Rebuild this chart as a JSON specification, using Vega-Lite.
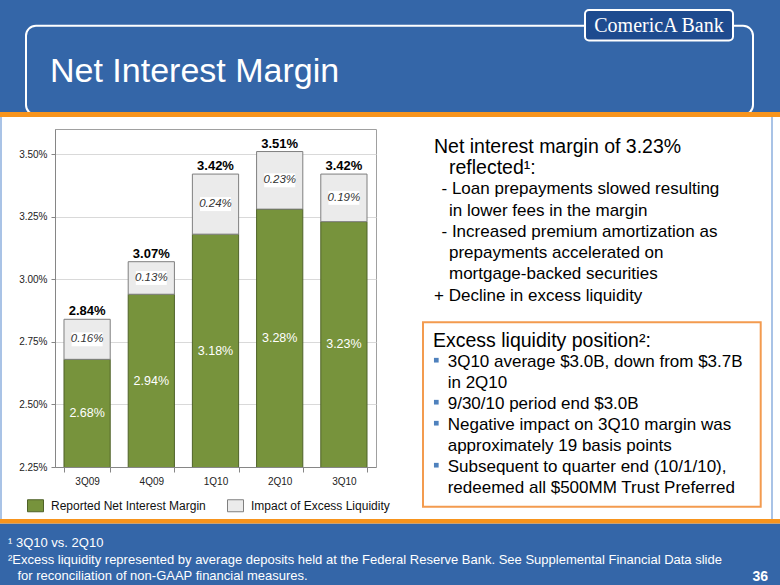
{
  "$schema": "https://vega.github.io/schema/vega-lite/v6.json",
  "width": 321,
  "height": 338,
  "autosize": {"type": "none"},
  "padding": {"left": 55, "top": 129, "right": 404, "bottom": 118},
  "background": "#FFFFFF",
  "config": {
    "font": "Liberation Sans",
    "view": {"stroke": "#A0A0A0", "strokeWidth": 1}
  },
  "datasets": {
    "slide": [{"page": "36"}],
    "nim": [
      {"quarter": "3Q09", "Reported Net Interest Margin": 0.0268, "Impact of Excess Liquidity": 0.0016, "total": 0.0284},
      {"quarter": "4Q09", "Reported Net Interest Margin": 0.0294, "Impact of Excess Liquidity": 0.0013, "total": 0.0307},
      {"quarter": "1Q10", "Reported Net Interest Margin": 0.0318, "Impact of Excess Liquidity": 0.0024, "total": 0.0342},
      {"quarter": "2Q10", "Reported Net Interest Margin": 0.0328, "Impact of Excess Liquidity": 0.0023, "total": 0.0351},
      {"quarter": "3Q10", "Reported Net Interest Margin": 0.0323, "Impact of Excess Liquidity": 0.0019, "total": 0.0342}
    ],
    "comment": [
      {"line": 0, "role": "lead", "text": "Net interest margin of 3.23%"},
      {"line": 1, "role": "cont", "text": "reflected¹:"},
      {"line": 2, "role": "dash", "text": "- Loan prepayments slowed resulting"},
      {"line": 3, "role": "cont", "text": "in lower fees in the margin"},
      {"line": 4, "role": "dash", "text": "- Increased premium amortization as"},
      {"line": 5, "role": "cont", "text": "prepayments accelerated on"},
      {"line": 6, "role": "cont", "text": "mortgage-backed securities"},
      {"line": 7, "role": "lead", "text": "+ Decline in excess liquidity"}
    ],
    "liquidity": [
      {"line": 0, "role": "lead", "bullet": false, "text": "Excess liquidity position²:"},
      {"line": 1, "role": "item", "bullet": true, "text": "3Q10 average $3.0B, down from $3.7B"},
      {"line": 2, "role": "item", "bullet": false, "text": "in 2Q10"},
      {"line": 3, "role": "item", "bullet": true, "text": "9/30/10 period end $3.0B"},
      {"line": 4, "role": "item", "bullet": true, "text": "Negative impact on 3Q10 margin was"},
      {"line": 5, "role": "item", "bullet": false, "text": "approximately 19 basis points"},
      {"line": 6, "role": "item", "bullet": true, "text": "Subsequent to quarter end (10/1/10),"},
      {"line": 7, "role": "item", "bullet": false, "text": "redeemed all $500MM Trust Preferred"}
    ],
    "notes": [
      {"line": 0, "role": "first", "text": "¹ 3Q10 vs. 2Q10"},
      {"line": 1, "role": "first", "text": "²Excess liquidity represented by average deposits held at the Federal Reserve Bank.  See Supplemental Financial Data slide"},
      {"line": 2, "role": "cont", "text": "for reconciliation of non-GAAP financial measures."}
    ]
  },
  "layer": [
    {
      "data": {"name": "slide"},
      "mark": {"type": "rect", "color": "#3466A8"},
      "encoding": {"x": {"value": -55}, "x2": {"value": 725}, "y": {"value": -129}, "y2": {"value": -17}}
    },
    {
      "data": {"name": "slide"},
      "mark": {"type": "rect", "color": "#3466A8"},
      "encoding": {"x": {"value": -55}, "x2": {"value": 725}, "y": {"value": 394.5}, "y2": {"value": 456}}
    },
    {
      "data": {"name": "slide"},
      "mark": {"type": "rect", "fillOpacity": 0, "stroke": "#FFFFFF", "strokeWidth": 2, "cornerRadius": 10},
      "encoding": {"x": {"value": -29}, "x2": {"value": 698}, "y": {"value": -103.3}, "y2": {"value": -14}}
    },
    {
      "data": {"name": "slide"},
      "mark": {"type": "rect", "color": "#F7941D"},
      "encoding": {"x": {"value": -55}, "x2": {"value": 725}, "y": {"value": -17}, "y2": {"value": -12}}
    },
    {
      "data": {"name": "slide"},
      "mark": {"type": "rect", "color": "#F7941D"},
      "encoding": {"x": {"value": -55}, "x2": {"value": 725}, "y": {"value": 390}, "y2": {"value": 394.5}}
    },
    {
      "data": {"name": "slide"},
      "mark": {"type": "rect", "color": "#A9C3E6"},
      "encoding": {"x": {"value": -55}, "x2": {"value": -53}, "y": {"value": -12}, "y2": {"value": 390}}
    },
    {
      "data": {"name": "slide"},
      "mark": {"type": "rect", "color": "#A9C3E6"},
      "encoding": {"x": {"value": 716}, "x2": {"value": 718}, "y": {"value": -12}, "y2": {"value": 390}}
    },
    {
      "data": {"name": "slide"},
      "mark": {"type": "rect", "fill": "#1E4B8F", "stroke": "#FFFFFF", "strokeWidth": 2, "cornerRadius": 4},
      "encoding": {"x": {"value": 530}, "x2": {"value": 678}, "y": {"value": -119}, "y2": {"value": -88.5}}
    },
    {
      "data": {"name": "slide"},
      "mark": {"type": "text", "text": "ComericA Bank", "font": "Liberation Serif", "fontSize": 20, "color": "#FFFFFF", "align": "center", "baseline": "middle"},
      "encoding": {"x": {"value": 604}, "y": {"value": -103.5}}
    },
    {
      "data": {"name": "slide"},
      "mark": {"type": "text", "text": "Net Interest Margin", "fontSize": 34, "color": "#FFFFFF", "align": "left", "baseline": "alphabetic"},
      "encoding": {"x": {"value": -5}, "y": {"value": -46.7}}
    },
    {
      "data": {"name": "slide"},
      "mark": {"type": "rect", "fillOpacity": 0, "stroke": "#F39B4F", "strokeWidth": 2},
      "encoding": {"x": {"value": 368}, "x2": {"value": 705.7}, "y": {"value": 193.3}, "y2": {"value": 377.7}}
    },
    {
      "data": {"name": "slide"},
      "mark": {"type": "text", "fontSize": 14, "fontWeight": "bold", "color": "#FFFFFF", "align": "right", "baseline": "middle"},
      "encoding": {"x": {"value": 713}, "y": {"value": 448}, "text": {"field": "page", "type": "nominal"}}
    },
    {
      "data": {"name": "nim"},
      "transform": [{"fold": ["Reported Net Interest Margin", "Impact of Excess Liquidity"], "as": ["series", "value"]}],
      "mark": {"type": "bar", "clip": true, "strokeWidth": 1},
      "encoding": {
        "x": {
          "field": "quarter", "type": "nominal", "sort": null, "title": null,
          "scale": {"paddingInner": 0.28, "paddingOuter": 0.14},
          "axis": {"labelAngle": 0, "labelFontSize": 10, "labelColor": "#222222", "tickBand": "extent", "tickSize": 5, "labelPadding": 4, "domainColor": "#868686", "tickColor": "#868686", "grid": false}
        },
        "y": {
          "field": "value", "type": "quantitative", "stack": "zero", "title": null,
          "scale": {"domain": [0.0225, 0.036], "zero": false, "nice": false},
          "axis": {"values": [0.0225, 0.025, 0.0275, 0.03, 0.0325, 0.035], "format": ".2%", "labelFontSize": 10, "labelColor": "#222222", "tickSize": 4, "labelPadding": 4, "domainColor": "#868686", "tickColor": "#868686", "grid": true, "gridColor": "#D9D9D9"}
        },
        "color": {
          "field": "series", "type": "nominal",
          "scale": {"domain": ["Reported Net Interest Margin", "Impact of Excess Liquidity"], "range": ["#77933C", "#EBEBEB"]},
          "legend": {"orient": "none", "legendX": -28, "legendY": 368, "direction": "horizontal", "title": null, "symbolType": "M-1,-0.75H1V0.75H-1Z", "symbolSize": 256, "symbolStrokeWidth": 1, "labelFontSize": 12, "labelColor": "#111111", "labelOffset": 7, "columnPadding": 19, "labelLimit": 300, "padding": 0}
        },
        "stroke": {
          "field": "series", "type": "nominal",
          "scale": {"domain": ["Reported Net Interest Margin", "Impact of Excess Liquidity"], "range": ["#4F6228", "#7F7F7F"]},
          "legend": {"orient": "none", "legendX": -28, "legendY": 368, "direction": "horizontal", "title": null, "symbolType": "M-1,-0.75H1V0.75H-1Z", "symbolSize": 256, "symbolStrokeWidth": 1, "labelFontSize": 12, "labelColor": "#111111", "labelOffset": 7, "columnPadding": 19, "labelLimit": 300, "padding": 0}
        },
        "order": {"field": "series", "sort": "descending"}
      }
    },
    {
      "data": {"name": "nim"},
      "transform": [{"fold": ["Reported Net Interest Margin", "total"], "as": ["k", "v"]}],
      "mark": {"type": "point", "shape": "M-1,-0.45H1V0.45H-1Z", "size": 961, "filled": true, "color": "#FFFFFF", "opacity": 1},
      "encoding": {
        "x": {"field": "quarter", "type": "nominal", "sort": null, "axis": null},
        "y": {"aggregate": "mean", "field": "v", "type": "quantitative", "scale": {"domain": [0.0225, 0.036], "zero": false, "nice": false}, "axis": null}
      }
    },
    {
      "data": {"name": "nim"},
      "transform": [{"fold": ["Reported Net Interest Margin", "total"], "as": ["k", "v"]}],
      "mark": {"type": "text", "fontSize": 11.5, "fontStyle": "italic", "color": "#333333", "baseline": "middle"},
      "encoding": {
        "x": {"field": "quarter", "type": "nominal", "sort": null, "axis": null},
        "y": {"aggregate": "mean", "field": "v", "type": "quantitative", "scale": {"domain": [0.0225, 0.036], "zero": false, "nice": false}, "axis": null},
        "text": {"aggregate": "max", "field": "Impact of Excess Liquidity", "type": "quantitative", "format": ".2%"}
      }
    },
    {
      "data": {"name": "nim"},
      "mark": {"type": "text", "fontSize": 12.5, "color": "#FFFFFF", "baseline": "middle"},
      "encoding": {
        "x": {"field": "quarter", "type": "nominal", "sort": null, "axis": null},
        "y": {"field": "Reported Net Interest Margin", "type": "quantitative", "scale": {"domain": [0.0225, 0.0495], "zero": false, "nice": false}, "axis": null},
        "text": {"field": "Reported Net Interest Margin", "type": "quantitative", "format": ".2%"}
      }
    },
    {
      "data": {"name": "nim"},
      "mark": {"type": "text", "fontSize": 13, "fontWeight": "bold", "color": "#000000", "baseline": "alphabetic", "dy": -4},
      "encoding": {
        "x": {"field": "quarter", "type": "nominal", "sort": null, "axis": null},
        "y": {"field": "total", "type": "quantitative", "scale": {"domain": [0.0225, 0.036], "zero": false, "nice": false}, "axis": null},
        "text": {"field": "total", "type": "quantitative", "format": ".2%"}
      }
    },
    {
      "data": {"name": "comment"},
      "transform": [{"filter": "datum.line <= 1"}],
      "mark": {"type": "text", "fontSize": 19.5, "color": "#000000", "align": "left", "baseline": "middle"},
      "encoding": {
        "x": {"field": "role", "type": "nominal", "scale": {"type": "point", "domain": ["lead", "dash", "cont"], "range": [379, 394], "padding": 0}, "axis": null},
        "y": {"field": "line", "type": "quantitative", "scale": {"domain": [0, 7], "range": [17.7, 166.7], "nice": false, "zero": false}, "axis": null},
        "text": {"field": "text", "type": "nominal"}
      }
    },
    {
      "data": {"name": "comment"},
      "transform": [{"filter": "datum.line >= 2"}],
      "mark": {"type": "text", "fontSize": 17, "color": "#000000", "align": "left", "baseline": "middle"},
      "encoding": {
        "x": {"field": "role", "type": "nominal", "scale": {"type": "point", "domain": ["lead", "dash", "cont"], "range": [379, 394], "padding": 0}, "axis": null},
        "y": {"field": "line", "type": "quantitative", "scale": {"domain": [0, 7], "range": [17.7, 166.7], "nice": false, "zero": false}, "axis": null},
        "text": {"field": "text", "type": "nominal"}
      }
    },
    {
      "data": {"name": "liquidity"},
      "transform": [{"filter": "datum.line == 0"}],
      "mark": {"type": "text", "fontSize": 19.5, "color": "#000000", "align": "left", "baseline": "middle"},
      "encoding": {
        "x": {"field": "role", "type": "nominal", "scale": {"type": "point", "domain": ["lead", "item"], "range": [378, 392.7], "padding": 0}, "axis": null},
        "y": {"field": "line", "type": "quantitative", "scale": {"domain": [0, 7], "range": [211.7, 358.7], "nice": false, "zero": false}, "axis": null},
        "text": {"field": "text", "type": "nominal"}
      }
    },
    {
      "data": {"name": "liquidity"},
      "transform": [{"filter": "datum.line >= 1"}],
      "mark": {"type": "text", "fontSize": 17, "color": "#000000", "align": "left", "baseline": "middle"},
      "encoding": {
        "x": {"field": "role", "type": "nominal", "scale": {"type": "point", "domain": ["lead", "item"], "range": [378, 392.7], "padding": 0}, "axis": null},
        "y": {"field": "line", "type": "quantitative", "scale": {"domain": [0, 7], "range": [211.7, 358.7], "nice": false, "zero": false}, "axis": null},
        "text": {"field": "text", "type": "nominal"}
      }
    },
    {
      "data": {"name": "liquidity"},
      "transform": [{"filter": "datum.bullet"}],
      "mark": {"type": "point", "shape": "square", "filled": true, "size": 22, "color": "#4F81BD", "opacity": 1, "xOffset": -11.4, "yOffset": -1.5},
      "encoding": {
        "x": {"field": "role", "type": "nominal", "scale": {"type": "point", "domain": ["lead", "item"], "range": [378, 392.7], "padding": 0}, "axis": null},
        "y": {"field": "line", "type": "quantitative", "scale": {"domain": [0, 7], "range": [211.7, 358.7], "nice": false, "zero": false}, "axis": null}
      }
    },
    {
      "data": {"name": "notes"},
      "mark": {"type": "text", "fontSize": 13, "color": "#FFFFFF", "align": "left", "baseline": "middle"},
      "encoding": {
        "x": {"field": "role", "type": "nominal", "scale": {"type": "point", "domain": ["first", "cont"], "range": [-47, -37.6], "padding": 0}, "axis": null},
        "y": {"field": "line", "type": "quantitative", "scale": {"domain": [0, 2], "range": [414, 447], "nice": false, "zero": false}, "axis": null},
        "text": {"field": "text", "type": "nominal"}
      }
    }
  ],
  "resolve": {"scale": {"x": "independent", "y": "independent", "color": "independent", "stroke": "independent"}}
}
